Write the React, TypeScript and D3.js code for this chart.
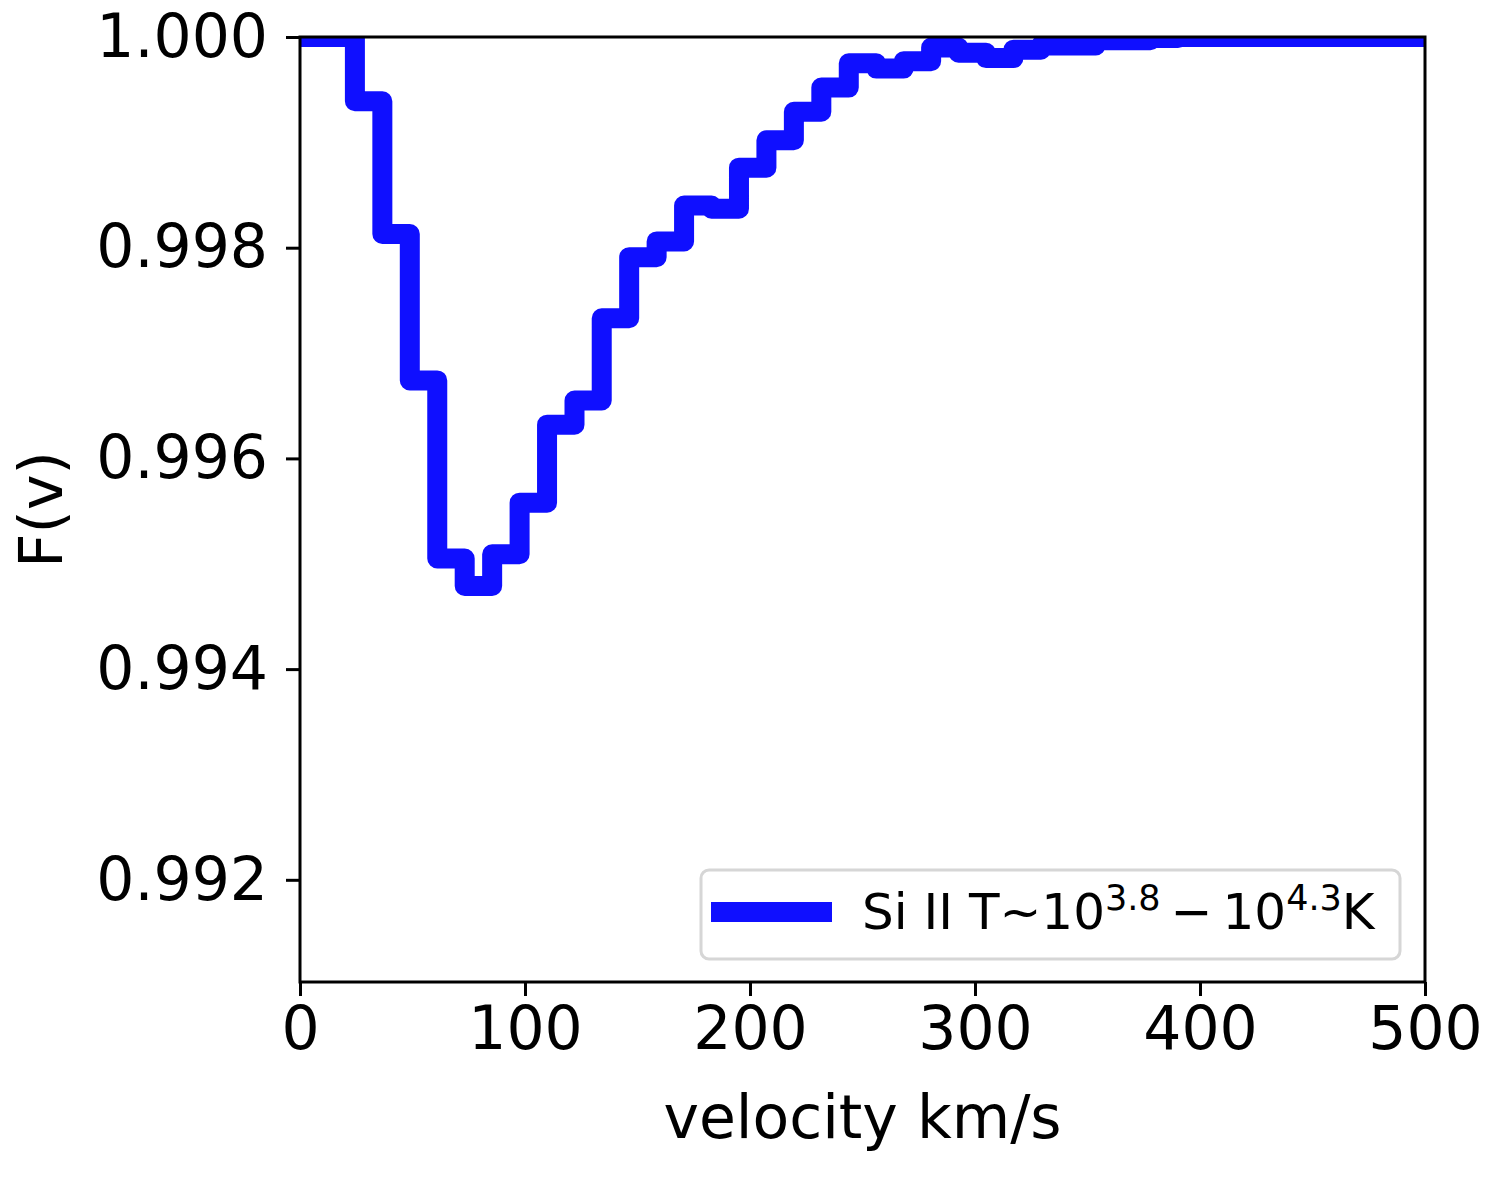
import { useEffect, useRef } from 'react';
import * as d3 from 'd3';

// velocity bin left edges (km/s) and flux level in each bin
const velEdges = [
    0, 12.2, 24.4, 36.6, 48.8, 61.0, 73.2, 85.4, 97.6, 109.8,
    122.0, 134.1, 146.3, 158.5, 170.7, 182.9, 195.1, 207.3, 219.5, 231.7,
    243.9, 256.1, 268.3, 280.5, 292.7, 304.9, 317.1, 329.3, 341.5, 353.7,
    365.9, 378.0, 390.2, 402.4, 414.6, 426.8, 439.0, 451.2, 463.4, 475.6,
    487.8,
];
const flux = [
    1.0, 1.0, 0.99939, 0.99813, 0.99674, 0.99505, 0.99479, 0.99509, 0.99558, 0.99632,
    0.99655, 0.99733, 0.99791, 0.99806, 0.99840, 0.99837, 0.99876, 0.99902, 0.99929, 0.99952,
    0.99975, 0.99970, 0.99977, 0.99990, 0.99985, 0.99980, 0.99988, 0.99992, 0.99992, 0.99997,
    0.99997, 0.99999, 1.0, 1.0, 1.0, 1.0, 1.0, 1.0, 1.0, 1.0,
    1.0,
];
const xTicks = [0, 100, 200, 300, 400, 500];
const yTicks = [0.992, 0.994, 0.996, 0.998, 1.0];

const FONT = '"DejaVu Sans", sans-serif';
const BLUE = '#0f0fff';

export default function App() {
    const svgRef = useRef<SVGSVGElement>(null);

    useEffect(() => {
        if (!svgRef.current) return;
        const svg = d3.select(svgRef.current);
        svg.selectAll('*').remove();

        const left = 300, right = 1425, top = 37, bottom = 982;
        const x = d3.scaleLinear().domain([0, 500]).range([left, right]);
        const y = d3.scaleLinear().domain([0.99103, 1.0]).range([bottom, top]);

        svg.append('defs').append('clipPath').attr('id', 'plot-clip')
            .append('rect')
            .attr('x', left).attr('y', top)
            .attr('width', right - left).attr('height', bottom - top);

        // step line (value holds until next edge)
        const pts: [number, number][] = velEdges.map((v, i) => [v, flux[i]]);
        pts.push([500, flux[flux.length - 1]]);
        const line = d3.line<[number, number]>()
            .x(d => x(d[0])).y(d => y(d[1]))
            .curve(d3.curveStepAfter);

        svg.append('path')
            .attr('clip-path', 'url(#plot-clip)')
            .attr('d', line(pts)!)
            .attr('fill', 'none')
            .attr('stroke', BLUE)
            .attr('stroke-width', 20)
            .attr('stroke-linejoin', 'round')
            .attr('stroke-linecap', 'square');

        // x axis
        const xAxis = d3.axisBottom(x).tickValues(xTicks).tickSize(14).tickPadding(10)
            .tickFormat(d => String(d));
        const gx = svg.append('g').attr('transform', `translate(0,${bottom})`).call(xAxis);
        gx.select('.domain').remove();
        gx.selectAll('line').attr('stroke', '#000').attr('stroke-width', 3);
        gx.selectAll('text').attr('font-family', FONT).attr('font-size', 60).attr('fill', '#000');

        // y axis
        const yAxis = d3.axisLeft(y).tickValues(yTicks).tickSize(14).tickPadding(18)
            .tickFormat(d => d3.format('.3f')(d as number));
        const gy = svg.append('g').attr('transform', `translate(${left},0)`).call(yAxis);
        gy.select('.domain').remove();
        gy.selectAll('line').attr('stroke', '#000').attr('stroke-width', 3);
        gy.selectAll('text').attr('font-family', FONT).attr('font-size', 60).attr('fill', '#000');

        // frame
        svg.append('rect')
            .attr('x', left).attr('y', top)
            .attr('width', right - left).attr('height', bottom - top)
            .attr('fill', 'none').attr('stroke', '#000').attr('stroke-width', 3);

        // axis labels
        svg.append('text')
            .attr('x', (left + right) / 2).attr('y', 1138)
            .attr('text-anchor', 'middle')
            .attr('font-family', FONT).attr('font-size', 60)
            .text('velocity km/s');
        svg.append('text')
            .attr('transform', `translate(62,${(top + bottom) / 2}) rotate(-90)`)
            .attr('text-anchor', 'middle')
            .attr('font-family', FONT).attr('font-size', 60)
            .text('F(v)');

        // legend
        const leg = svg.append('g');
        leg.append('rect')
            .attr('x', 701).attr('y', 870).attr('width', 699).attr('height', 89)
            .attr('rx', 8)
            .attr('fill', '#fff').attr('fill-opacity', 0.8)
            .attr('stroke', '#d6d6d6').attr('stroke-width', 3);
        leg.append('line')
            .attr('x1', 721).attr('x2', 822).attr('y1', 912).attr('y2', 912)
            .attr('stroke', BLUE).attr('stroke-width', 20)
            .attr('stroke-linecap', 'square');
        const t = leg.append('text')
            .attr('x', 862).attr('y', 929)
            .attr('font-family', FONT).attr('font-size', 50).attr('fill', '#000');
        t.append('tspan').text('Si II T~10');
        t.append('tspan').attr('font-size', 35).attr('dy', -19).text('3.8');
        t.append('tspan').attr('dy', 19).text('\u2009\u2212\u200910');
        t.append('tspan').attr('font-size', 35).attr('dy', -19).text('4.3');
        t.append('tspan').attr('dy', 19).text('K');
    }, []);

    return (
        <svg
            ref={svgRef}
            width={1500}
            height={1200}
            style={{ position: 'absolute', left: 0, top: 0, background: '#fff' }}
        />
    );
}
